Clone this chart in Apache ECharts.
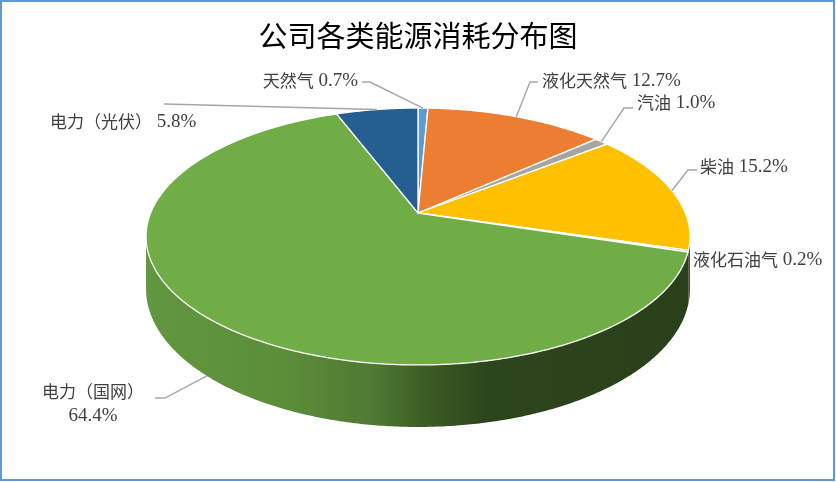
<!DOCTYPE html>
<html>
<head>
<meta charset="utf-8">
<script src="https://cdn.jsdelivr.net/npm/echarts@6/dist/echarts.min.js"></script>
<style>
html,body{margin:0;padding:0;background:#fff;}
#chart{width:836px;height:482px;}
</style>
</head>
<body>
<div id="chart"></div>
<script>
// 数据
var names = ['天然气', '液化天然气', '汽油', '柴油', '液化石油气', '电力（国网）', '电力（光伏）'];
var shares = [0.7, 12.7, 1.0, 15.2, 0.2, 64.4, 5.8];
var colors = ['#5B9BD5', '#ED7D31', '#A5A5A5', '#FFC000', '#4472C4', '#70AD47', '#255E91'];

// 标签摆放 (像素)
var labelLayout = [
    {x: 358, y: 81, align: 'right', from: [362, 82], elbow: [370, 82], depth: 0},
    {x: 542, y: 81, align: 'left', from: [538, 82], elbow: [530, 82], depth: 0},
    {x: 637, y: 103, align: 'left', from: [633, 108], elbow: [624, 108], depth: 0},
    {x: 700, y: 167, align: 'left', from: [697, 170], elbow: [688, 170], depth: 0},
    {x: 693, y: 260, align: 'left', from: null, elbow: null, depth: 0},
    {x: 93, y: 404, align: 'center', from: [155, 398], elbow: [165, 398], depth: 1, wrap: true},
    {x: 50, y: 122, align: 'left', from: [164, 104], elbow: null, depth: 0}
];

// 透视饼图参数
var CX = 418, CY = 213, PA = 1462, PB = 679, PD = 5.468, PH = 277;
var SIL0 = Math.acos(-1 / PD) * 180 / Math.PI;
var SIL1 = 360 - SIL0;

var total = 0;
shares.forEach(function (v) { total += v; });
var startDeg = [], endDeg = [];
var acc = 0;
for (var i = 0; i < shares.length; i++) {
    startDeg.push(acc / total * 360);
    acc += shares[i];
    endDeg.push(acc / total * 360);
}

function proj(deg, depth) {
    var t = deg * Math.PI / 180;
    var u = Math.sin(t), v = -Math.cos(t), k = PD - v;
    return [CX + PA * u / k, CY + PB * v / k + depth * PH / k];
}

function arc(a, b, depth) {
    var n = Math.max(2, Math.ceil(Math.abs(b - a) / 0.5));
    var pts = [];
    for (var j = 0; j <= n; j++) {
        pts.push(proj(a + (b - a) * j / n, depth));
    }
    return pts;
}

function darken(hex, f) {
    var c = echarts.color.parse(hex);
    return 'rgb(' + Math.round(c[0] * f) + ',' + Math.round(c[1] * f) + ',' + Math.round(c[2] * f) + ')';
}

function wallFill(c) {
    return new echarts.graphic.LinearGradient(147, 0, 692, 0, [
        {offset: 0, color: darken(c, 0.87)},
        {offset: 0.25, color: darken(c, 0.82)},
        {offset: 0.42, color: darken(c, 0.70)},
        {offset: 0.5, color: darken(c, 0.55)},
        {offset: 0.62, color: darken(c, 0.40)},
        {offset: 1, color: darken(c, 0.37)}
    ], true);
}

var labelRich = {
    n: {fontSize: 17, fontFamily: 'Noto Sans CJK SC', color: '#404040', lineHeight: 24},
    p: {fontSize: 19, fontFamily: 'Liberation Serif', color: '#404040', lineHeight: 24}
};

function renderSlice(params, api) {
    var i = params.dataIndex;
    var a0 = startDeg[i], a1 = endDeg[i];
    var kids = [];

    // 顶面
    kids.push({
        type: 'polygon',
        z2: 10,
        shape: {points: [[CX, CY]].concat(arc(a0, a1, 0))},
        style: {fill: colors[i], stroke: '#fff', lineWidth: 1.3}
    });

    // 侧面
    var s = Math.max(a0, SIL0), e = Math.min(a1, SIL1);
    if (e > s) {
        kids.push({
            type: 'polygon',
            z2: 1,
            shape: {points: arc(s, e, 0).concat(arc(e, s, 1))},
            style: {fill: wallFill(colors[i])}
        });
    }

    // 标签
    var L = labelLayout[i];
    var pct = shares[i].toFixed(1) + '%';
    var txt = '{n|' + names[i] + '}' + (L.wrap ? '\n' : '{p| }') + '{p|' + pct + '}';
    kids.push({
        type: 'text',
        z2: 20,
        x: L.x,
        y: L.y,
        style: {
            text: txt,
            rich: labelRich,
            fill: '#404040',
            align: L.align,
            verticalAlign: 'middle'
        }
    });
    if (L.from) {
        var mid = (a0 + a1) / 2;
        var pts = [L.from];
        if (L.elbow) pts.push(L.elbow);
        pts.push(proj(mid, L.depth));
        kids.push({
            type: 'polyline',
            z2: 20,
            shape: {points: pts},
            style: {stroke: '#A6A6A6', lineWidth: 1.4, fill: null}
        });
    }
    return {type: 'group', children: kids};
}

var myChart = echarts.init(document.getElementById('chart'));
var option = {
    backgroundColor: '#fff',
    animation: false,
    title: {
        text: '公司各类能源消耗分布图',
        left: 'center',
        top: 16,
        textStyle: {
            fontSize: 29,
            fontWeight: 'normal',
            color: '#000',
            fontFamily: 'Noto Sans CJK SC'
        }
    },
    graphic: [{
        type: 'rect',
        shape: {x: 1, y: 1, width: 833, height: 479},
        style: {fill: null, stroke: '#5B9BD5', lineWidth: 2},
        z: 100
    }],
    series: [{
        type: 'custom',
        coordinateSystem: 'none',
        renderItem: renderSlice,
        data: shares
    }]
};
myChart.setOption(option);
</script>
</body>
</html>
